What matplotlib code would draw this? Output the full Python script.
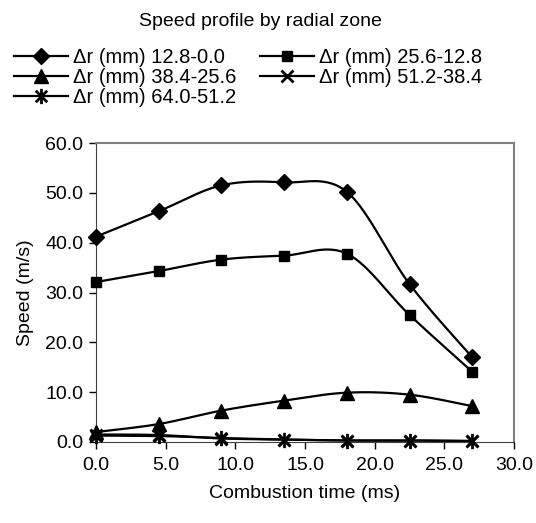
import numpy as np
import matplotlib.pyplot as plt
from matplotlib.path import Path

plt.rcParams['font.family'] = ['Liberation Sans', 'DejaVu Sans']

# data
time_ms = [0.0, 4.5, 9.0, 13.5, 18.0, 22.5, 27.0]
zone_labels = ['Δr (mm) 12.8-0.0', 'Δr (mm) 25.6-12.8', 'Δr (mm) 38.4-25.6',
               'Δr (mm) 51.2-38.4', 'Δr (mm) 64.0-51.2']
speed_12_0 = [41.2, 46.3, 51.5, 52.1, 50.2, 31.7, 17.0]
speed_25_12 = [32.1, 34.3, 36.6, 37.4, 37.8, 25.5, 14.1]
speed_38_25 = [2.0, 3.6, 6.3, 8.3, 9.9, 9.5, 7.2]
speed_51_38 = [1.5, 1.4, 0.7, 0.5, 0.3, 0.3, 0.2]
speed_64_51 = [1.3, 1.2, 0.8, 0.5, 0.3, 0.3, 0.2]
xticks = [0, 5, 10, 15, 20, 25, 30]
yticks = [0, 10, 20, 30, 40, 50, 60]


def smooth(x, y, n=30):
    """Excel-like smoothed line (Catmull-Rom bezier)"""
    x = np.asarray(x, float)
    y = np.asarray(y, float)
    px = np.concatenate([[x[0]], x, [x[-1]]])
    py = np.concatenate([[y[0]], y, [y[-1]]])
    xs, ys = [], []
    t = np.linspace(0, 1, n)
    for i in range(1, len(px) - 2):
        p0 = np.array([px[i], py[i]])
        p3 = np.array([px[i + 1], py[i + 1]])
        p1 = p0 + (np.array([px[i + 1], py[i + 1]]) - np.array([px[i - 1], py[i - 1]])) / 6
        p2 = p3 - (np.array([px[i + 2], py[i + 2]]) - np.array([px[i], py[i]])) / 6
        b = ((1 - t)**3)[:, None] * p0 + (3 * (1 - t)**2 * t)[:, None] * p1 \
            + (3 * (1 - t) * t**2)[:, None] * p2 + (t**3)[:, None] * p3
        xs.extend(b[:, 0])
        ys.extend(b[:, 1])
    return xs, ys


star = Path([(0, -1), (0, 1), (-0.75, -0.75), (0.75, 0.75), (-0.75, 0.75), (0.75, -0.75)],
            [Path.MOVETO, Path.LINETO, Path.MOVETO, Path.LINETO, Path.MOVETO, Path.LINETO])

series = [speed_12_0, speed_25_12, speed_38_25, speed_51_38, speed_64_51]
markers = [('D', 8, 1), ('s', 7.5, 1), ('^', 9.5, 1), ('x', 8.5, 2), (star, 11, 2)]

fig = plt.figure(figsize=(5.36, 5.23), dpi=100)
ax = fig.add_axes([96 / 536, 1 - 442 / 523, 418 / 536, 299 / 523])

handles = []
for vals, (m, ms, mew), lab in zip(series, markers, zone_labels):
    sx, sy = smooth(time_ms, vals)
    ax.plot(sx, sy, color='black', lw=1.6, solid_capstyle='butt', zorder=2)
    ax.plot(time_ms, vals, linestyle='none', marker=m, ms=ms, mew=mew,
            color='black', mfc='black', mec='black', zorder=3, clip_on=False)
    h, = ax.plot([], [], color='black', lw=1.6, marker=m, ms=ms, mew=mew,
                 mfc='black', mec='black', label=lab)
    handles.append(h)

ax.set_xlim(0, 30)
ax.set_ylim(0, 60)
ax.set_xticks(xticks)
ax.set_yticks(yticks)
ax.set_xticklabels([f'{v:.1f}' for v in xticks])
ax.set_yticklabels([f'{v:.1f}' for v in yticks])
ax.tick_params(labelsize=14, direction='out', length=5, width=1, pad=4)
ax.tick_params(axis='x', pad=6)
ax.spines['left'].set_color('#404040')
ax.spines['bottom'].set_color('#404040')
ax.spines['top'].set_color('#808080')
ax.spines['right'].set_color('#808080')
ax.spines['top'].set_linewidth(1.5)
ax.spines['right'].set_linewidth(1.5)
ax.set_xlabel('Combustion time (ms)', fontsize=14, labelpad=8)
ax.set_ylabel('Speed (m/s)', fontsize=14, labelpad=8)

fig.text(0.486, 1 - 22 / 523, 'Speed profile by radial zone', fontsize=14,
         ha='center', va='center')

# row-major legend order
order = [0, 2, 4, 1, 3]
fig.legend([handles[i] for i in order], [zone_labels[i] for i in order],
           ncol=2, loc='upper left', bbox_to_anchor=(6 / 536, 1 - 40 / 523),
           frameon=False, fontsize=14.5, handlelength=2.7, handletextpad=0.25,
           columnspacing=1.15, labelspacing=0.05, borderaxespad=0, borderpad=0.4)

fig.savefig('out.png', dpi=100)
